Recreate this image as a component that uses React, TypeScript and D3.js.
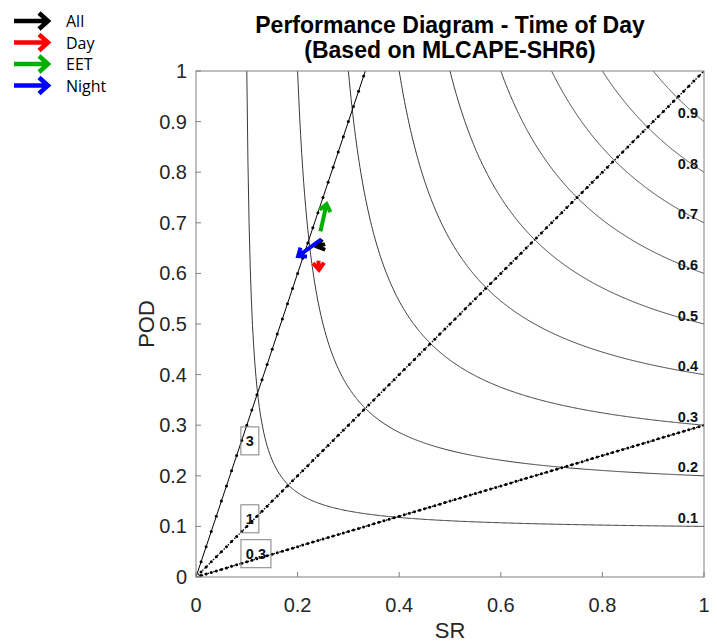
import React from "react";
import * as d3 from "d3";

// ---- data ----
const csiLevels = [0.1, 0.2, 0.3, 0.4, 0.5, 0.6, 0.7, 0.8, 0.9];
const biasLevels = [3, 1, 0.3];
const biasLabels = ["3", "1", "0.3"];
const biasLabelSR = [0.106, 0.106, 0.118];
const biasLabelPOD = [0.269, 0.115, 0.046];
const biasMarkerSR = d3.range(0, 1.0001, 0.01);

const seriesNames = ["All", "Day", "EET", "Night"];
const seriesColors = ["#000000", "#ff0000", "#00b000", "#0000ff"];
const startSR = [0.254, 0.241, 0.245, 0.246];
const startPOD = [0.658, 0.625, 0.683, 0.667];
const endSR = [0.238, 0.242, 0.257, 0.201];
const endPOD = [0.653, 0.607, 0.737, 0.634];

const xTicks = [0, 0.2, 0.4, 0.6, 0.8, 1];
const yTicks = [0, 0.1, 0.2, 0.3, 0.4, 0.5, 0.6, 0.7, 0.8, 0.9, 1];

const titleLines = ["Performance Diagram - Time of Day", "(Based on MLCAPE-SHR6)"];

// ---- layout ----
const W = 717;
const H = 643;
const L = 196, R = 704, T = 71, B = 577;
const FONT = "'Liberation Sans', Arial, Helvetica, sans-serif";

const x = d3.scaleLinear().domain([0, 1]).range([L, R]);
const y = d3.scaleLinear().domain([0, 1]).range([B, T]);

function arrowPath(x1: number, y1: number, x2: number, y2: number, len: number, half: number) {
  const a = Math.atan2(y2 - y1, x2 - x1);
  const ang = Math.atan2(half, len);
  const hl = Math.sqrt(len * len + half * half);
  const p1 = [x2 - hl * Math.cos(a - ang), y2 - hl * Math.sin(a - ang)];
  const p2 = [x2 - hl * Math.cos(a + ang), y2 - hl * Math.sin(a + ang)];
  return `M${x1},${y1}L${x2},${y2}M${p1[0]},${p1[1]}L${x2},${y2}L${p2[0]},${p2[1]}`;
}

export default function App() {
  const line = d3
    .line<[number, number]>()
    .x((d) => x(d[0]))
    .y((d) => y(d[1]));

  const csiCurves = csiLevels.map((c) => {
    const pts: [number, number][] = [];
    const n = 400;
    for (let i = 0; i <= n; i++) {
      const sr = c + ((1 - c) * i) / n;
      const pod = 1 / (1 / c - 1 / sr + 1);
      pts.push([sr, Math.min(pod, 1)]);
    }
    return pts;
  });

  return (
    <svg width={W} height={H} style={{ position: "absolute", left: 0, top: 0, background: "#fff" }}>
      <defs>
        <clipPath id="plotclip">
          <rect x={L} y={T} width={R - L} height={B - T} />
        </clipPath>
      </defs>
      <rect x={0} y={0} width={W} height={H} fill="#fff" />

      {/* title */}
      {titleLines.map((t, i) => (
        <text key={i} x={(L + R) / 2} y={33 + i * 25} textAnchor="middle" fontFamily={FONT}
          fontWeight="bold" fontSize={23} fill="#000">{t}</text>
      ))}

      {/* CSI curves */}
      <g clipPath="url(#plotclip)">
        {csiCurves.map((pts, i) => (
          <path key={i} d={line(pts) || ""} fill="none" stroke="#3a3a3a" strokeWidth={1} />
        ))}
        {/* bias lines */}
        {biasLevels.map((b, i) => {
          const pts: [number, number][] = biasMarkerSR.map((s) => [s, b * s]);
          return (
            <g key={i}>
              <path d={line(pts) || ""} fill="none" stroke="#000" strokeWidth={i === 0 ? 1 : 1.3}
                strokeDasharray={i === 0 ? undefined : "1.5,1.5"} />
              {pts.filter((p) => p[1] <= 1.0001).map((p, j) => (
                <circle key={j} cx={x(p[0])} cy={y(p[1])} r={1.5} fill="#000" />
              ))}
            </g>
          );
        })}
      </g>

      {/* CSI labels */}
      {csiLevels.map((c, i) => (
        <text key={i} x={698} y={y(c) - 3.5} textAnchor="end" fontFamily={FONT} fontWeight="bold"
          fontSize={14.5} fill="#111">{String(c)}</text>
      ))}

      {/* bias labels */}
      {biasLabels.map((t, i) => {
        const cx = x(biasLabelSR[i]);
        const cy = y(biasLabelPOD[i]);
        const w = t.length > 1 ? 30 : 18;
        return (
          <g key={i}>
            <rect x={cx - w / 2} y={cy - 14} width={w} height={28} fill="none" stroke="#808080" strokeWidth={1} />
            <text x={cx} y={cy + 5} textAnchor="middle" fontFamily={FONT} fontWeight="bold" fontSize={14.5} fill="#111">{t}</text>
          </g>
        );
      })}

      {/* data arrows */}
      {seriesNames.map((n, i) => (
        <path key={n} d={arrowPath(x(startSR[i]), y(startPOD[i]), x(endSR[i]), y(endPOD[i]), 7, 5.5)}
          fill="none" stroke={seriesColors[i]} strokeWidth={4} strokeLinejoin="miter" strokeLinecap="butt" />
      ))}

      {/* frame */}
      <rect x={L} y={T} width={R - L} height={B - T} fill="none" stroke="#808080" strokeWidth={1} />
      {xTicks.map((t, i) => (
        <g key={i}>
          <line x1={x(t)} x2={x(t)} y1={B} y2={B - 5} stroke="#808080" />
          <text x={x(t)} y={612} textAnchor="middle" fontFamily={FONT} fontSize={20} fill="#262626">{String(t)}</text>
        </g>
      ))}
      {yTicks.map((t, i) => (
        <g key={i}>
          <line x1={L} x2={L + 5} y1={y(t)} y2={y(t)} stroke="#808080" />
          <text x={187} y={y(t) + 7} textAnchor="end" fontFamily={FONT} fontSize={20} fill="#262626">{String(t)}</text>
        </g>
      ))}
      <text x={(L + R) / 2} y={638} textAnchor="middle" fontFamily={FONT} fontSize={22} fill="#262626">SR</text>
      <text transform={`translate(154,${(T + B) / 2}) rotate(-90)`} textAnchor="middle" fontFamily={FONT}
        fontSize={22} fill="#262626">POD</text>

      {/* legend */}
      {seriesNames.map((n, i) => {
        const ly = 21 + i * 21.5;
        return (
          <g key={n}>
            <path d={arrowPath(14, ly, 48, ly, 9, 8)} fill="none" stroke={seriesColors[i]} strokeWidth={4.5}
              strokeLinejoin="miter" />
            <text x={66} y={ly + 6} fontFamily="'Open Sans', sans-serif" fontSize={16} fill="#000">{n}</text>
          </g>
        );
      })}
    </svg>
  );
}
